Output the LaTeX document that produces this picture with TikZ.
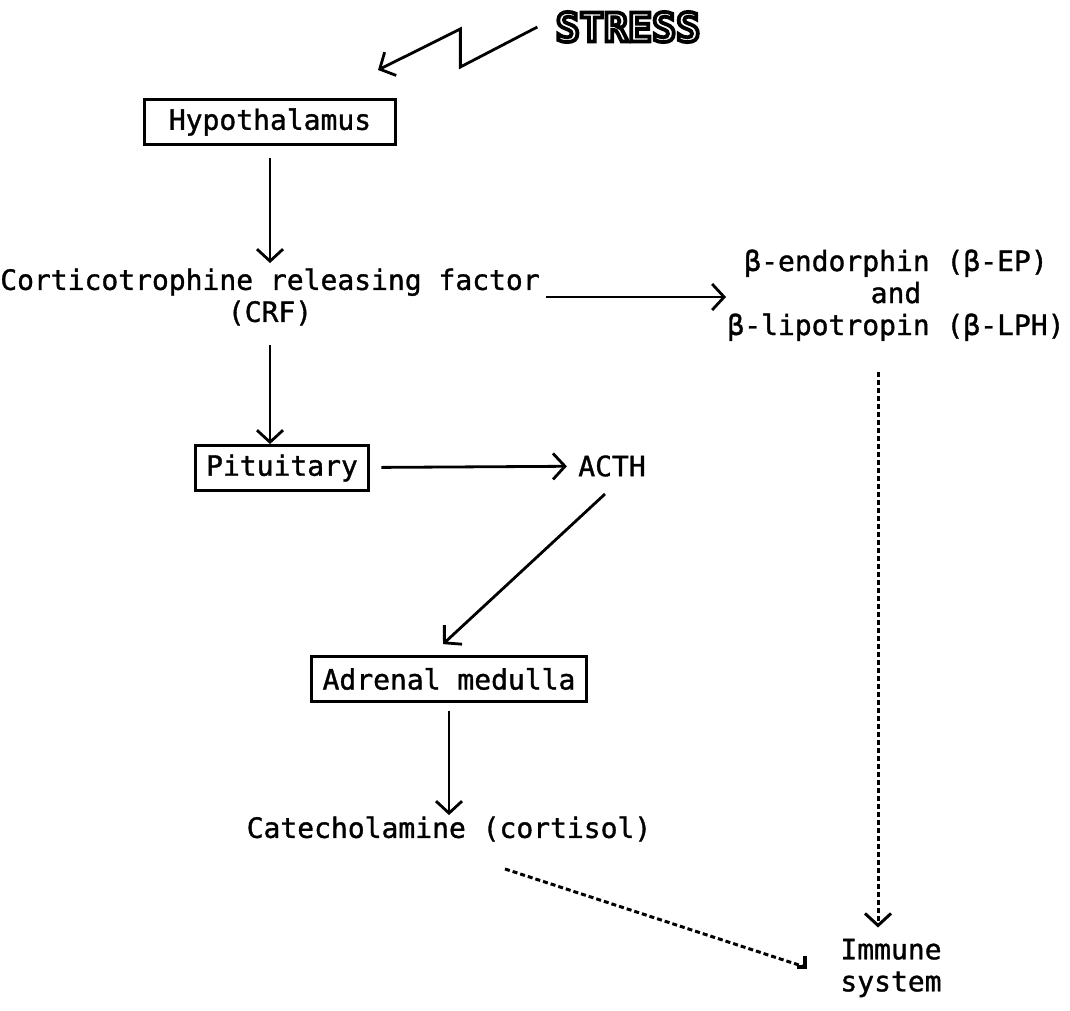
\documentclass[tikz,border=0pt]{standalone}
\usepackage{fontspec}
\newfontfamily\labelfont[FakeBold=1.2]{DejaVu Sans Mono}
\newfontfamily\stressfont{DejaVu Sans Mono Bold}
\usetikzlibrary{arrows.meta}
\newcommand\inlinetext[1]{{\color{white}\special{pdf:literal direct 2 Tr 3.8 w 0 G}#1\special{pdf:literal direct 0 Tr}}}

\begin{document}
\begin{tikzpicture}[x=1pt,y=-1pt,>={Straight Barb[length=12pt,width=26pt]},line width=2.8pt,
    every node/.style={font=\labelfont\fontsize{28}{32}\selectfont,inner sep=0pt,align=center},
    box node/.style={draw,inner xsep=11pt,minimum height=45pt},
    dotted line/.style={dash pattern=on 5pt off 3pt,line width=3pt}]

  \useasboundingbox (0,0) rectangle (1070,1010);

  \node[font=\stressfont\fontsize{40}{40}\selectfont] (S) at (628,27) {\inlinetext{STRESS}};
  \coordinate (zz) at (378,70);
  \node[box node,minimum width=251pt] (H) at (270,122) {Hypothalamus};
  \node (CRF) at (270,297) {Corticotrophine releasing factor\\(CRF)};
  \node (BE) at (896,295) {β-endorphin (β-EP)\\and\\β-lipotropin (β-LPH)};
  \node[box node] (P) at (282,468) {Pituitary};
  \node (ACTH) at (612,466) {ACTH};
  \node[box node] (AM) at (449,679) {Adrenal medulla};
  \node (CAT) at (449,829) {Catecholamine (cortisol)};
  \node (IS) at (891,968) {Immune\\system};
  \coordinate (ie) at (805,967);

  \draw[->] ([xshift=-17pt]S.west) -- ++(-77,40) -- ++(0,-38) -- (zz);
  \draw[->,shorten <=12pt,shorten >=4pt] (H.south) -- (H.south |- CRF.north);
  \draw[->,shorten <=18pt] (CRF.south) -- (CRF.south |- P.north);
  \draw[->,shorten <=5pt] (CRF.east) -- (CRF.east -| BE.west);
  \draw[->,shorten <=11pt,shorten >=10pt] (P) -- (ACTH);
  \draw[->] ([xshift=-7pt,yshift=-16pt]ACTH.south) -- ([xshift=-6pt,yshift=11pt]AM.north);
  \draw[->,shorten <=8pt] (AM.south) -- (AM.south |- CAT.north);

  \draw[dotted line] ([xshift=56pt,yshift=-26pt]CAT.south) -- (ie);
  \draw[line width=3.4pt] ([yshift=11pt]ie) -- (ie) -- ([xshift=-8pt]ie);
  \draw[dotted line,->] ([xshift=-18pt,yshift=-30pt]BE.south) -- ([xshift=-13pt,yshift=10pt]IS.north);

\end{tikzpicture}
\end{document}
